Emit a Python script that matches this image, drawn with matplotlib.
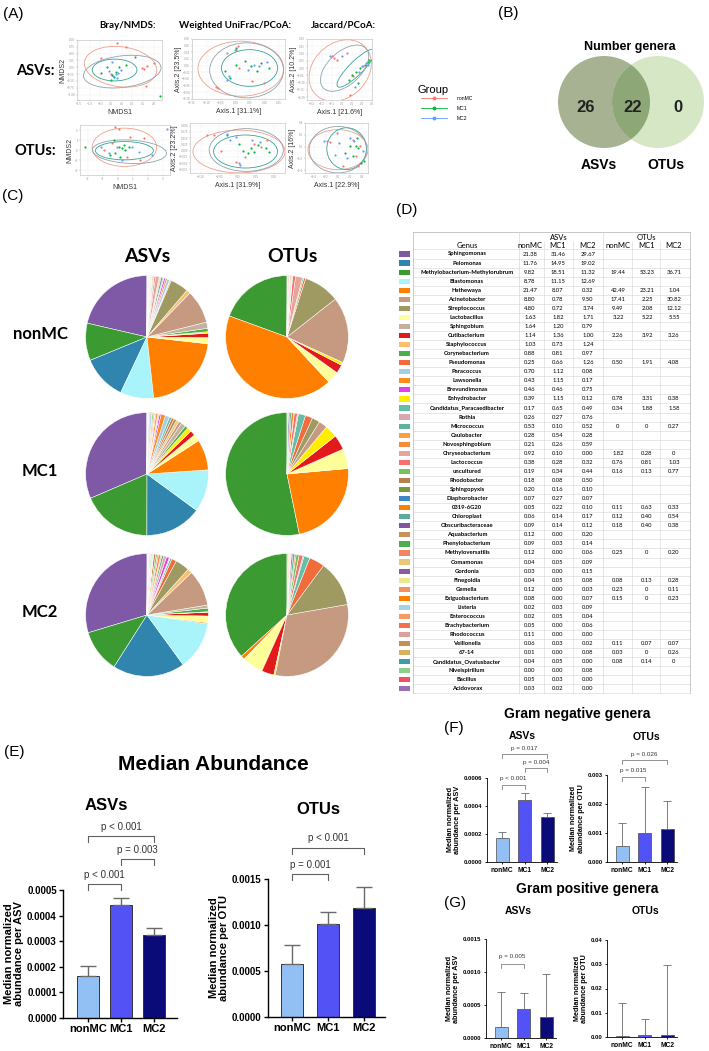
import numpy as np
import matplotlib
matplotlib.use("Agg")
import matplotlib.pyplot as plt
from matplotlib.patches import Ellipse, Circle, Rectangle

plt.rcParams["font.family"] = ["Liberation Sans", "DejaVu Sans"]

W, H = 709, 1051

# ---------------- data ----------------
groups = ["nonMC", "MC1", "MC2"]
group_colors = ["#F8766D", "#00BA38", "#619CFF"]
ellipse_colors = ["#eea08c", "#35a597", "#8fa3ad"]

# (A) ordinations: points per group (x, y) and ellipses (cx, cy, width, height, angle)
bray_asv_nonmc = [(0.30, 0.90), (0.69, 0.73), (1.47, -0.04), (1.70, 0.05), (1.57, -0.08), (1.65, -0.69), (-0.48, 0.33), (0.0, -0.25), (2.0, 0.14)]
bray_asv_mc1 = [(0.07, -0.28), (0.15, -0.37), (0.0, -0.47), (0.38, 0.02), (-0.17, 0.02), (0.22, -0.16), (-0.48, -0.2), (0.69, 0.08), (1.15, 0.39), (2.3, -1.05)]
bray_asv_mc2 = [(0.22, -0.25), (0.33, -0.2), (0.11, -0.32), (0.45, -0.1), (-0.09, -0.12), (0.07, 0.2), (0.3, -0.4)]
bray_asv_ell = [(0.45, 0.02, 3.42, 1.47, -5), (0.17, -0.1, 2.1, 0.8, 0), (0.53, -0.16, 3.66, 1.16, 5)]

wuni_asv_nonmc = [(-0.069, -0.064), (-0.061, -0.067), (-0.028, 0.038), (0.002, 0.048), (0.058, -0.047), (0.099, -0.052), (0.013, -0.007), (0.007, 0.058)]
wuni_asv_mc1 = [(0.002, 0.003), (0.053, -0.002), (0.073, -0.017), (0.089, 0.008), (0.033, 0.013), (-0.038, -0.017), (-0.018, -0.037), (0.114, -0.007), (0.002, 0.053)]
wuni_asv_mc2 = [(-0.003, 0.048), (0.063, 0.003), (0.079, -0.002), (-0.028, -0.042), (-0.023, -0.032), (0.109, 0.01), (0.043, -0.012)]
wuni_asv_ell = [(0.018, -0.009, 0.295, 0.165, 0), (0.048, -0.007, 0.193, 0.11, 0), (0.038, -0.014, 0.254, 0.165, 0)]

jac_asv_nonmc = [(-0.104, 0.08), (-0.076, 0.068), (-0.047, 0.057), (0.083, -0.185), (0.112, -0.058), (0.213, 0.011), (0.054, 0.103)]
jac_asv_mc1 = [(0.257, 0.045), (0.228, 0.022), (0.184, -0.001), (0.141, -0.024), (0.098, -0.047), (0.069, -0.082), (0.155, -0.105), (0.271, 0.057)]
jac_asv_mc2 = [(0.242, 0.034), (0.199, 0.011), (0.257, 0.022), (-0.003, 0.08), (-0.119, 0.085), (0.127, -0.128), (0.170, -0.024)]
jac_asv_ell = [(-0.018, -0.017, 0.636, 0.404, 15), (0.141, -0.001, 0.45, 0.11, 33), (0.026, -0.001, 0.52, 0.254, 25)]

bray_otu_nonmc = [(-0.14, 2.27), (0.08, 2.07), (0.85, 1.33), (1.74, 1.17), (-0.91, 0.0), (0.63, -0.67), (1.51, -1.0), (-0.36, 0.67)]
bray_otu_mc1 = [(-0.25, 1.0), (0.08, 0.33), (0.3, 0.17), (0.52, 0.0), (0.74, 0.33), (-0.47, -0.5), (0.19, -0.67), (-0.14, -0.33), (0.41, 0.5), (-2.2, 0.3)]
bray_otu_mc2 = [(-1.13, 0.33), (-0.58, -0.33), (0.3, -1.0), (1.4, -0.17), (2.29, -0.5), (-0.03, 0.33), (0.96, 0.33), (3.28, 2.07)]
bray_otu_ell = [(0.46, 0.27, 4.3, 3.83, 0), (0.46, -0.07, 3.86, 1.83, 0), (0.79, -0.17, 4.96, 2.33, -5)]

wuni_otu_nonmc = [(-0.084, 0.061), (-0.065, 0.061), (-0.004, -0.044), (0.045, 0.028), (0.081, 0.042), (0.065, 0.015), (-0.045, -0.002), (0.020, -0.024)]
wuni_otu_mc1 = [(0.037, 0.009), (0.045, -0.004), (0.029, -0.011), (0.057, 0.022), (0.016, -0.002), (0.077, 0.009), (0.004, 0.028), (0.085, -0.004), (-0.028, 0.061)]
wuni_otu_mc2 = [(-0.028, 0.068), (0.004, -0.05), (0.008, -0.057), (-0.004, 0.055), (0.061, 0.035), (-0.02, 0.042), (0.041, 0.042)]
wuni_otu_ell = [(0.004, -0.004, 0.252, 0.171, 0), (0.022, -0.004, 0.175, 0.132, 0), (0.024, 0.002, 0.203, 0.171, 0)]

jac_otu_nonmc = [(-0.185, 0.088), (-0.139, 0.071), (0.249, 0.117), (0.295, -0.167), (0.34, -0.337), (0.363, 0.003), (0.089, -0.337), (-0.025, 0.23)]
jac_otu_mc1 = [(0.295, 0.003), (0.34, -0.025), (0.203, 0.003), (0.249, -0.167), (0.432, -0.252), (0.112, -0.11), (0.317, 0.145), (0.386, -0.28)]
jac_otu_mc2 = [(-0.23, 0.088), (0.203, 0.145), (0.272, 0.088), (0.021, 0.06), (-0.048, -0.138), (0.409, -0.082), (0.158, -0.195)]
jac_otu_ell = [(0.0, -0.053, 1.0, 0.68, 0), (0.144, -0.036, 0.66, 0.71, 0), (0.0, -0.053, 0.96, 0.79, 0)]

ord_titles = ["Bray/NMDS:", "Weighted UniFrac/PCoA:", "Jaccard/PCoA:"]
ord_xlabels = ["NMDS1", "Axis.1 [31.1%]", "Axis.1 [21.6%]", "NMDS1", "Axis.1 [31.9%]", "Axis.1 [22.9%]"]
ord_ylabels = ["NMDS2", "Axis.2 [23.5%]", "Axis.2 [10.2%]", "NMDS2", "Axis.2 [23.2%]", "Axis.2 [16%]"]
ord_xlims = [(-1.6, 2.4), (-0.15, 0.17), (-0.35, 0.3), (-2.5, 3.5), (-0.13, 0.13), (-0.55, 0.5)]
ord_ylims = [(-1.2, 1.0), (-0.1, 0.08), (-0.22, 0.2), (-2.5, 2.5), (-0.09, 0.11), (-0.45, 0.4)]

# (B) Venn
venn_labels = ["ASVs", "OTUs"]
venn_counts = [26, 22, 0]  # ASVs only, shared, OTUs only

# (C)/(D) genus table
genera = ["Sphingomonas", "Pelomonas", "Methylobacterium-Methylorubrum", "Blastomonas", "Hathewaya",
          "Acinetobacter", "Streptococcus", "Lactobacillus", "Sphingobium", "Cutibacterium",
          "Staphylococcus", "Corynebacterium", "Pseudomonas", "Paracoccus", "Lawsonella",
          "Brevundimonas", "Enhydrobacter", "Candidatus_Paracaedibacter", "Rothia", "Micrococcus",
          "Caulobacter", "Novosphingobium", "Chryseobacterium", "Lactococcus", "uncultured",
          "Rhodobacter", "Sphingopyxis", "Diaphorobacter", "0319-6G20", "Chloroplast",
          "Obscuribacteraceae", "Aquabacterium", "Phenylobacterium", "Methyloversatilis", "Comamonas",
          "Gordonia", "Finegoldia", "Gemella", "Exiguobacterium", "Listeria",
          "Enterococcus", "Brachybacterium", "Rhodococcus", "Veillonella", "67-14",
          "Candidatus_Ovatusbacter", "Niveispirillum", "Bacillus", "Acidovorax"]
genus_colors = ["#7f58a6", "#2f85ad", "#3c9a33", "#a8f4fa", "#ff7f00",
                "#c69a80", "#9e9a62", "#ffff99", "#c4b09e", "#e31a1c",
                "#fdbf6f", "#4caf48", "#f26b3a", "#a6cee3", "#ff8c1a",
                "#e23ef0", "#ffee00", "#66bfa4", "#dba7ae", "#5fb39a",
                "#ffa040", "#f68b3b", "#e6a598", "#f87070", "#7ac35a",
                "#b8804a", "#789a3a", "#3f88c5", "#ff8000", "#5aaea0",
                "#7e57a0", "#c8915a", "#4cae4c", "#f4845f", "#e8c87a",
                "#8a5ca8", "#f0e68c", "#f49060", "#ff8000", "#a6d2e6",
                "#fb9a60", "#f4704a", "#dca0a0", "#c89050", "#d9b060",
                "#3c9eaa", "#8cd08c", "#f05060", "#9a70b0"]
asv_nonmc = [21.38, 11.76, 9.82, 8.78, 21.47, 8.80, 4.80, 1.63, 1.64, 1.14, 1.03, 0.88, 0.25, 0.70, 0.43,
             0.46, 0.39, 0.17, 0.26, 0.53, 0.28, 0.21, 0.92, 0.38, 0.19, 0.18, 0.20, 0.07, 0.05, 0.06,
             0.09, 0.12, 0.09, 0.12, 0.04, 0.03, 0.04, 0.12, 0.08, 0.02, 0.02, 0.05, 0.11, 0.06, 0.01,
             0.04, 0.00, 0.05, 0.03]
asv_mc1 = [31.46, 14.95, 18.51, 11.15, 8.07, 0.78, 0.72, 1.82, 1.20, 1.36, 0.73, 0.81, 0.66, 1.12, 1.15,
           0.46, 1.15, 0.65, 0.27, 0.10, 0.54, 0.26, 0.10, 0.28, 0.34, 0.08, 0.16, 0.27, 0.22, 0.14,
           0.14, 0.00, 0.03, 0.00, 0.05, 0.00, 0.05, 0.00, 0.00, 0.03, 0.05, 0.00, 0.00, 0.03, 0.00,
           0.05, 0.00, 0.03, 0.02]
asv_mc2 = [29.67, 19.02, 11.32, 12.69, 0.32, 9.50, 3.74, 1.71, 0.79, 1.00, 1.24, 0.97, 1.26, 0.08, 0.17,
           0.75, 0.12, 0.49, 0.76, 0.52, 0.28, 0.59, 0.00, 0.32, 0.44, 0.50, 0.10, 0.07, 0.10, 0.17,
           0.12, 0.20, 0.14, 0.06, 0.09, 0.15, 0.08, 0.03, 0.07, 0.09, 0.04, 0.06, 0.00, 0.02, 0.08,
           0.00, 0.08, 0.00, 0.00]
N = None
otu_nonmc = [N, N, 19.44, N, 42.49, 17.41, 9.49, 3.22, N, 2.26, N, N, 0.50, N, N,
             N, 0.78, 0.34, N, 0, N, N, 1.82, 0.76, 0.16, N, N, N, 0.11, 0.12,
             0.18, N, N, 0.25, N, N, 0.08, 0.23, 0.15, N, N, N, N, 0.11, 0.03,
             0.08, N, N, N]
otu_mc1 = [N, N, 53.23, N, 23.21, 2.25, 2.08, 5.22, N, 3.92, N, N, 1.91, N, N,
           N, 3.31, 1.88, N, 0, N, N, 0.28, 0.81, 0.13, N, N, N, 0.63, 0.40,
           0.40, N, N, 0, N, N, 0.13, 0, 0, N, N, N, N, 0.07, 0,
           0.14, N, N, N]
otu_mc2 = [N, N, 36.71, N, 1.04, 30.82, 12.12, 5.55, N, 3.26, N, N, 4.08, N, N,
           N, 0.38, 1.58, N, 0.27, N, N, 0, 1.03, 0.77, N, N, N, 0.33, 0.54,
           0.38, N, N, 0.20, N, N, 0.28, 0.11, 0.23, N, N, N, N, 0.07, 0.26,
           0, N, N, N]
pie_lead = ["Sphingomonas", "Methylobacterium-Methylorubrum", "Pelomonas", "Blastomonas", "Hathewaya",
            "Lactobacillus", "Cutibacterium", "Enhydrobacter", "Corynebacterium", "Sphingobium",
            "Acinetobacter", "Staphylococcus", "Streptococcus", "Pseudomonas", "Candidatus_Paracaedibacter"]
pie_order = pie_lead + [g for g in genera if g not in pie_lead]

# (E)-(G) median normalized abundance (bar = median, whisker top)
bar_colors = ["#92c0f5", "#5353f5", "#0a0a78"]
e_asv_med = [0.000165, 0.000443, 0.000325]
e_asv_top = [0.000205, 0.000470, 0.000350]
e_otu_med = [0.000575, 0.00101, 0.00119]
e_otu_top = [0.00078, 0.00114, 0.00141]
f_asv_med = [0.00017, 0.000443, 0.000325]
f_asv_top = [0.000215, 0.00049, 0.00035]
f_otu_med = [0.00055, 0.0010, 0.00115]
f_otu_top = [0.00135, 0.0026, 0.0021]
g_asv_med = [0.00017, 0.000445, 0.00032]
g_asv_top = [0.0007, 0.00068, 0.00097]
g_otu_med = [0.0005, 0.0008, 0.0010]
g_otu_top = [0.014, 0.0075, 0.0297]
e_asv_pvals = [(0, 1, "p < 0.001"), (1, 2, "p = 0.003"), (0, 2, "p < 0.001")]
e_otu_pvals = [(0, 1, "p = 0.001"), (0, 2, "p < 0.001")]
f_asv_pvals = [(0, 1, "p < 0.001"), (1, 2, "p = 0.004"), (0, 2, "p = 0.017")]
f_otu_pvals = [(0, 1, "p = 0.015"), (0, 2, "p = 0.026")]
g_asv_pvals = [(0, 1, "p = 0.005")]

# ---------------- figure ----------------
fig = plt.figure(figsize=(W / 100, H / 100), dpi=100)


def px_axes(x0, y0, x1, y1):
    return fig.add_axes([x0 / W, 1 - y1 / H, (x1 - x0) / W, (y1 - y0) / H])


ov = px_axes(0, 0, W, H)
ov.set_xlim(0, W)
ov.set_ylim(H, 0)
ov.axis("off")

for lab, x, y in [("(A)", 13, 14), ("(B)", 508, 13), ("(C)", 13, 196), ("(D)", 407, 210),
                  ("(E)", 14, 752), ("(F)", 454, 728), ("(G)", 455, 903)]:
    ov.text(x, y, lab, fontsize=11, ha="center", va="center")

# ---- (A) ----
ord_points = [(bray_asv_nonmc, bray_asv_mc1, bray_asv_mc2), (wuni_asv_nonmc, wuni_asv_mc1, wuni_asv_mc2),
              (jac_asv_nonmc, jac_asv_mc1, jac_asv_mc2), (bray_otu_nonmc, bray_otu_mc1, bray_otu_mc2),
              (wuni_otu_nonmc, wuni_otu_mc1, wuni_otu_mc2), (jac_otu_nonmc, jac_otu_mc1, jac_otu_mc2)]
ord_ells = [bray_asv_ell, wuni_asv_ell, jac_asv_ell, bray_otu_ell, wuni_otu_ell, jac_otu_ell]
ord_boxes = [(77, 40, 162, 100), (192, 39, 285, 99), (307, 39, 372, 100),
             (80, 125, 170, 175), (190, 123, 285, 173), (305, 123, 368, 173)]

for k in range(6):
    ax = px_axes(*ord_boxes[k])
    for g in range(3):
        arr = np.array(ord_points[k][g])
        ax.scatter(arr[:, 0], arr[:, 1], s=2.5, color=group_colors[g], lw=0, zorder=3)
        cx, cy, w, h, a = ord_ells[k][g]
        ax.add_patch(Ellipse((cx, cy), w, h, angle=a, fill=False, ec=ellipse_colors[g], lw=0.6, zorder=2))
    ax.set_xlim(ord_xlims[k])
    ax.set_ylim(ord_ylims[k])
    ax.tick_params(labelsize=2.2, length=1, width=0.3, pad=0.5, colors="#999999")
    ax.grid(True, color="#eeeeee", lw=0.3)
    for s in ax.spines.values():
        s.set_color("#bbbbbb")
        s.set_linewidth(0.4)
    ax.set_xlabel(ord_xlabels[k], fontsize=5, labelpad=2, color="#333333")
    ax.set_ylabel(ord_ylabels[k], fontsize=5, labelpad=0.5, color="#333333")

for t, x in zip(ord_titles, [127, 235, 343]):
    ov.text(x, 25, t, fontsize=7, fontweight="bold", ha="center", va="center", family="Lato")
ov.text(35, 71, "ASVs:", fontsize=10.5, fontweight="bold", ha="center", va="center", family="Lato")
ov.text(35, 151, "OTUs:", fontsize=10.5, fontweight="bold", ha="center", va="center", family="Lato")

ov.text(418, 90, "Group", fontsize=8, ha="left", va="center")
for g in range(3):
    yy = 98 + g * 10
    ov.plot([421, 447], [yy, yy], color=group_colors[g], lw=0.6)
    ov.plot([434], [yy], "o", ms=1.8, color=group_colors[g])
    ov.text(457, yy, groups[g], fontsize=3.6, ha="left", va="center")

# ---- (B) Venn ----
c_left = Circle((604, 102), 46, color="#a6b291", lw=0)
c_right = Circle((658, 102), 46, color="#d6e7c6", lw=0)
ov.add_patch(c_left)
ov.add_patch(c_right)
c_mid = Circle((604, 102), 46, color="#8ea777", lw=0)
ov.add_patch(c_mid)
c_clip = Circle((658, 102), 46, transform=ov.transData)
c_mid.set_clip_path(c_clip)
ov.text(630, 47, "Number genera", fontsize=9, fontweight="bold", ha="center", va="center")
for cnt, x in zip(venn_counts, [586, 633, 678]):
    ov.text(x, 107, str(cnt), fontsize=12, fontweight="bold", ha="center", va="center", color="#222222")
for lab, x in zip(venn_labels, [599, 666]):
    ov.text(x, 165, lab, fontsize=10, fontweight="bold", ha="center", va="center")

# ---- (C) pies ----
def pie_values(values):
    vals, cols = [], []
    for name in pie_order:
        i = genera.index(name)
        v = values[i]
        if v is None or v <= 0:
            continue
        vals.append(v)
        cols.append(genus_colors[i])
    return vals, cols


pie_sets = [(asv_nonmc, otu_nonmc), (asv_mc1, otu_mc1), (asv_mc2, otu_mc2)]
pie_rows = [337, 474, 615]
r = 62
for row, (asv_v, otu_v) in enumerate(pie_sets):
    for cx, v in zip([147, 287], [asv_v, otu_v]):
        ax = px_axes(cx - r, pie_rows[row] - r, cx + r, pie_rows[row] + r)
        vals, cols = pie_values(v)
        ax.pie(vals, colors=cols, startangle=90, counterclock=True,
               wedgeprops=dict(edgecolor="white", linewidth=0.35))
        ax.set_xlim(-1.01, 1.01)
        ax.set_ylim(-1.01, 1.01)
    ov.text(40, pie_rows[row] - 3, groups[row], fontsize=12, fontweight="bold", ha="center", va="center", family="Lato")
ov.text(147, 257, "ASVs", fontsize=14, fontweight="bold", ha="center", va="center", family="Lato")
ov.text(292, 257, "OTUs", fontsize=14, fontweight="bold", ha="center", va="center", family="Lato")

# ---- (D) table ----
col_x = [530, 558, 588, 618, 647, 674]
row_y0, row_h = 254, 9.06
t_top, t_bot = 232, row_y0 + 48 * row_h + row_h / 2
grid_c = "#d4d4d4"
for i, g in enumerate(genera):
    y = row_y0 + i * row_h
    ov.add_patch(Rectangle((399, y - 2.6), 11, 5.2, color=genus_colors[i], lw=0))
    ov.text(467, y, g, fontsize=4.2, fontweight="bold", ha="center", va="center", family="Lato")
    for j, col in enumerate([asv_nonmc, asv_mc1, asv_mc2]):
        ov.text(col_x[j], y, f"{col[i]:.2f}", fontsize=4.2, ha="center", va="center", family="Lato")
    for j, col in enumerate([otu_nonmc, otu_mc1, otu_mc2]):
        v = col[i]
        if v is None:
            continue
        s = "0" if v == 0 else f"{v:.2f}"
        ov.text(col_x[3 + j], y, s, fontsize=4.2, ha="center", va="center", family="Lato")
    ov.plot([413, 690], [y + row_h / 2, y + row_h / 2], color=grid_c, lw=0.4)
ov.plot([413, 690], [row_y0 - row_h / 2] * 2, color=grid_c, lw=0.4)
ov.plot([413, 690], [t_top, t_top], color="#b0b0b0", lw=0.5)
for xv in [413, 519, 603, 690]:
    ov.plot([xv, xv], [t_top, t_bot], color="#b0b0b0" if xv in (413, 690) else grid_c, lw=0.45)
for xv in [544, 573, 632, 660]:
    ov.plot([xv, xv], [241, t_bot], color=grid_c, lw=0.4)
ov.text(559, 237, "ASVs", fontsize=5.5, ha="center", va="center", family="Lato")
ov.text(646, 237, "OTUs", fontsize=5.5, ha="center", va="center", family="Lato")
ov.text(467, 246, "Genus", fontsize=5.5, ha="center", va="center", family="Lato")
for j in range(6):
    ov.text(col_x[j], 246, groups[j % 3], fontsize=5.5, ha="center", va="center", family="Lato")

# ---- (E)-(G) bars ----
def draw_bars(ax, med, top, ylim, yticks, fmt, xlim, width, tfs, xfs, cap, lw, ylab, yfs, pvals, levels, pfs):
    x = np.arange(3)
    med = np.array(med)
    top = np.array(top)
    ax.bar(x, med, width=width, color=bar_colors, edgecolor="#333333", linewidth=lw * 0.7, zorder=2)
    ax.errorbar(x, med, yerr=[np.zeros(3), top - med], fmt="none", ecolor="#6a6a6a",
                elinewidth=lw, capsize=cap, capthick=lw, zorder=3)
    ax.set_xlim(xlim)
    ax.set_ylim(ylim)
    ax.set_yticks(yticks)
    ax.set_yticklabels([fmt % t for t in yticks], fontsize=tfs, fontweight="bold")
    ax.set_xticks(x)
    ax.set_xticklabels(groups, fontsize=xfs, fontweight="bold")
    ax.tick_params(width=lw, length=3 * lw, pad=1.5)
    for s in ["top", "right"]:
        ax.spines[s].set_visible(False)
    for s in ["left", "bottom"]:
        ax.spines[s].set_linewidth(lw)
    ax.set_ylabel(ylab, fontsize=yfs, fontweight="bold", labelpad=2, linespacing=1.05)
    ymax = ylim[1]
    for (i, j, lab), lev in zip(pvals, levels):
        yt = lev * ymax
        yl = yt - 0.045 * ymax
        ax.plot([i, i, j, j], [yl, yt, yt, yl], color="#606060", lw=lw * 0.8, clip_on=False)
        ax.text((i + j) / 2, yt + 0.07 * ymax, lab, fontsize=pfs, ha="center", va="center", color="#333333")


ax = px_axes(63, 890, 177, 1018)
draw_bars(ax, e_asv_med, e_asv_top, (0, 0.0005), [0, 0.0001, 0.0002, 0.0003, 0.0004, 0.0005], "%.4f",
          (-0.76, 2.70), 0.67, 7, 8, 5.5, 1.0, "Median normalized\nabundance per ASV", 8,
          e_asv_pvals, [1.046, 1.24, 1.42], 7)
ax = px_axes(268, 879, 385, 1017)
draw_bars(ax, e_otu_med, e_otu_top, (0, 0.0015), [0, 0.0005, 0.0010, 0.0015], "%.4f",
          (-0.67, 2.58), 0.61, 7, 8, 5.5, 1.0, "Median normalized\nabundance per OTU", 8,
          e_otu_pvals, [1.035, 1.225], 7)
ax = px_axes(487, 778, 557, 862)
draw_bars(ax, f_asv_med, f_asv_top, (0, 0.0006), [0, 0.0002, 0.0004, 0.0006], "%.4f",
          (-0.67, 2.44), 0.58, 4.3, 4.8, 2.9, 0.6, "Median normalized\nabundance per ASV", 5.2,
          f_asv_pvals, [0.92, 1.12, 1.28], 4.5)
ax = px_axes(607, 775, 677, 862)
draw_bars(ax, f_otu_med, f_otu_top, (0, 0.003), [0, 0.001, 0.002, 0.003], "%.3f",
          (-0.67, 2.44), 0.58, 4.3, 4.8, 2.9, 0.6, "Median normalized\nabundance per OTU", 5.2,
          f_otu_pvals, [0.98, 1.17], 4.5)
ax = px_axes(486, 939, 556, 1038)
draw_bars(ax, g_asv_med, g_asv_top, (0, 0.0015), [0, 0.0005, 0.0010, 0.0015], "%.4f",
          (-0.67, 2.44), 0.58, 4.3, 4.8, 2.9, 0.6, "Median normalized\nabundance per ASV", 5.2,
          g_asv_pvals, [0.75], 4.5)
ax = px_axes(607, 940, 677, 1037)
draw_bars(ax, g_otu_med, g_otu_top, (0, 0.04), [0, 0.01, 0.02, 0.03, 0.04], "%.2f",
          (-0.67, 2.44), 0.58, 4.3, 4.8, 2.9, 0.6, "Median normalized\nabundance per OTU", 5.2,
          [], [], 4.5)

ov.text(213, 765, "Median Abundance", fontsize=15, fontweight="bold", ha="center", va="center")
ov.text(106, 805, "ASVs", fontsize=12, fontweight="bold", ha="center", va="center")
ov.text(318, 810, "OTUs", fontsize=12, fontweight="bold", ha="center", va="center")
ov.text(577, 714, "Gram negative genera", fontsize=10, fontweight="bold", ha="center", va="center")
ov.text(522, 736, "ASVs", fontsize=7.5, fontweight="bold", ha="center", va="center")
ov.text(646, 737, "OTUs", fontsize=7.5, fontweight="bold", ha="center", va="center")
ov.text(587, 889, "Gram positive genera", fontsize=10, fontweight="bold", ha="center", va="center")
ov.text(518, 911, "ASVs", fontsize=7.5, fontweight="bold", ha="center", va="center")
ov.text(645, 911, "OTUs", fontsize=7.5, fontweight="bold", ha="center", va="center")

fig.savefig("out.png", dpi=100)
